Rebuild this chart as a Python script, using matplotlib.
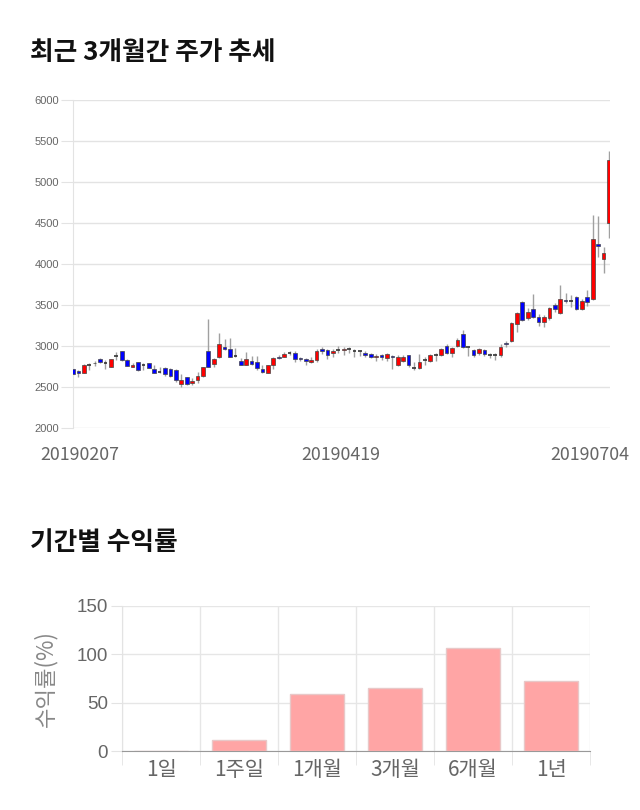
import numpy as np
import matplotlib.pyplot as plt
from matplotlib.patches import Rectangle

plt.rcParams['font.family'] = ['Noto Sans CJK KR', 'DejaVu Sans']

# ---- price data ----
opens = [2720, 2695, 2675, 2770, 2790, 2846, 2797, 2748, 2878, 2935,
         2833, 2744, 2801, 2772, 2789, 2720, 2679, 2732, 2724, 2707,
         2533, 2618, 2549, 2586, 2638, 2939, 2781, 2870, 2992, 2968,
         2874, 2817, 2772, 2817, 2801, 2720, 2675, 2768, 2870, 2870,
         2911, 2911, 2854, 2842, 2805, 2826, 2968, 2951, 2911, 2951,
         2947, 2968, 2935, 2935, 2915, 2903, 2862, 2890, 2850, 2878,
         2764, 2821, 2886, 2732, 2736, 2830, 2813, 2895, 2890, 3000,
         2911, 2996, 3146, 2984, 2951, 2911, 2951, 2895, 2886, 2886,
         3037, 3061, 3269, 3541, 3346, 3451, 3358, 3293, 3346, 3496,
         3399, 3561, 3549, 3602, 3451, 3594, 3569, 4240, 4057, 4496]
closes = [2655, 2670, 2768, 2770, 2797, 2801, 2797, 2838, 2878, 2830,
          2760, 2768, 2703, 2772, 2736, 2671, 2679, 2663, 2638, 2586,
          2586, 2533, 2570, 2638, 2740, 2740, 2838, 3025, 2968, 2870,
          2874, 2772, 2838, 2785, 2736, 2679, 2768, 2850, 2854, 2903,
          2911, 2842, 2838, 2813, 2830, 2939, 2943, 2895, 2939, 2951,
          2968, 2968, 2935, 2935, 2895, 2870, 2878, 2870, 2907, 2870,
          2870, 2870, 2764, 2732, 2801, 2830, 2895, 2895, 2964, 2911,
          2976, 3069, 2984, 2984, 2886, 2960, 2903, 2895, 2886, 2992,
          3021, 3281, 3399, 3317, 3415, 3350, 3289, 3350, 3468, 3447,
          3569, 3545, 3549, 3447, 3553, 3541, 4305, 4215, 4138, 5268]
highs = [2730, 2705, 2785, 2797, 2820, 2854, 2830, 2846, 2931, 2935,
         2838, 2789, 2801, 2797, 2793, 2768, 2740, 2740, 2736, 2716,
         2659, 2626, 2606, 2687, 2748, 3325, 2850, 3163, 3081, 3102,
         2972, 2850, 2927, 2878, 2878, 2768, 2768, 2862, 2890, 2931,
         2935, 2935, 2862, 2850, 2862, 2960, 2984, 2960, 2968, 3000,
         2984, 2984, 2960, 2951, 2935, 2919, 2903, 2903, 2911, 2890,
         2895, 2895, 2895, 2809, 2903, 2862, 2903, 2919, 2972, 3025,
         2992, 3094, 3191, 2992, 2968, 2980, 2968, 2919, 2919, 3025,
         3065, 3297, 3419, 3549, 3460, 3634, 3390, 3378, 3480, 3520,
         3740, 3642, 3622, 3610, 3569, 3683, 4593, 4585, 4203, 5378]
lows = [2645, 2625, 2665, 2707, 2750, 2789, 2715, 2740, 2830, 2821,
        2756, 2740, 2699, 2707, 2736, 2667, 2667, 2634, 2626, 2565,
        2504, 2525, 2525, 2545, 2618, 2740, 2740, 2850, 2951, 2870,
        2862, 2764, 2764, 2772, 2707, 2675, 2675, 2720, 2838, 2862,
        2886, 2805, 2821, 2768, 2789, 2805, 2903, 2838, 2862, 2911,
        2886, 2919, 2870, 2878, 2870, 2850, 2821, 2830, 2821, 2716,
        2756, 2809, 2748, 2707, 2716, 2768, 2805, 2821, 2878, 2903,
        2862, 2984, 2976, 2878, 2870, 2890, 2878, 2850, 2830, 2870,
        2984, 3053, 3175, 3309, 3317, 3338, 3248, 3236, 3317, 3419,
        3390, 3520, 3480, 3439, 3439, 3488, 3555, 4081, 3894, 4313]
date_labels = ['20190207', '20190419', '20190704']
date_pos = [1.3, 49.4, 95.5]

# ---- returns data ----
periods = ['1일', '1주일', '1개월', '3개월', '6개월', '1년']
returns = [0, 10.9, 58.7, 64.8, 106.8, 72.4]

fig = plt.figure(figsize=(6.4, 8.1), dpi=100)

# ---- top: candlestick ----
fig.text(30 / 640, 1 - 52 / 810, '최근 3개월간 주가 추세', fontsize=18.5,
         fontweight='bold', va='center', ha='left', color='#111111')

ax1 = fig.add_axes([73 / 640, 1 - 428 / 810, 537 / 640, 328 / 810])
w = 0.68
for i, (o, h, l, c) in enumerate(zip(opens, highs, lows, closes)):
    ax1.vlines(i, l, h, color='#a0a0a0', linewidth=1, zorder=2)
    if c == o:
        ax1.hlines(o, i - w / 2, i + w / 2, color='#333333', linewidth=1.2, zorder=3)
        continue
    color = '#ff0000' if c > o else '#0000ff'
    ax1.add_patch(Rectangle((i - w / 2, min(o, c)), w, abs(c - o),
                            facecolor=color, edgecolor='#444444',
                            linewidth=0.5, zorder=3))

ax1.set_xlim(0, 99.2)
ax1.set_ylim(2000, 6000)
ax1.set_yticks(range(2000, 6001, 500))
ax1.set_yticklabels([str(v) for v in range(2000, 6001, 500)],
                    family=['Liberation Sans', 'DejaVu Sans'], fontsize=8, color='#666666')
ax1.grid(axis='y', color='#e3e3e3', linewidth=1)
ax1.tick_params(axis='y', length=9, color='#e3e3e3', pad=1)
ax1.set_xticks(date_pos)
ax1.set_xticklabels(date_labels, fontsize=12.8, color='#666666')
ax1.tick_params(axis='x', length=0, pad=13)
for s in ['top', 'right', 'bottom']:
    ax1.spines[s].set_visible(False)
ax1.spines['left'].set_color('#e3e3e3')
ax1.set_axisbelow(True)

# ---- bottom: returns bar ----
fig.text(30 / 640, 1 - 543 / 810, '기간별 수익률', fontsize=18.5,
         fontweight='bold', va='center', ha='left', color='#111111')

ax2 = fig.add_axes([122 / 640, 1 - 751 / 810, 468 / 640, 145 / 810])
x = np.arange(len(periods))
ax2.bar(x, returns, width=0.7, color='#ffa5a5', edgecolor='#e8c8c8', linewidth=1, zorder=3)
ax2.set_xlim(-0.5, len(periods) - 0.5)
ax2.set_ylim(0, 150)
ax2.set_yticks([0, 50, 100, 150])
ax2.set_yticklabels(['0', '50', '100', '150'], family=['Liberation Sans', 'DejaVu Sans'],
                    fontsize=13.5, color='#666666')
ax2.set_xticks(x)
ax2.set_xticklabels(periods, fontsize=15, color='#666666')
ax2.set_xticks(np.arange(-0.5, len(periods), 1), minor=True)
ax2.tick_params(axis='x', which='major', length=0, pad=6)
ax2.tick_params(axis='x', which='minor', length=10, color='#e3e3e3')
ax2.tick_params(axis='y', length=8, color='#e3e3e3', pad=2)
ax2.grid(axis='y', color='#e6e6e6', linewidth=1)
ax2.grid(axis='x', which='minor', color='#e6e6e6', linewidth=1)
ax2.set_ylabel('수익률(%)', fontsize=16, color='#888888', labelpad=14)
for s in ['top', 'right']:
    ax2.spines[s].set_visible(False)
ax2.spines['left'].set_color('#e3e3e3')
ax2.spines['bottom'].set_color('#999999')
ax2.set_axisbelow(True)

fig.savefig('out.png', dpi=100)
